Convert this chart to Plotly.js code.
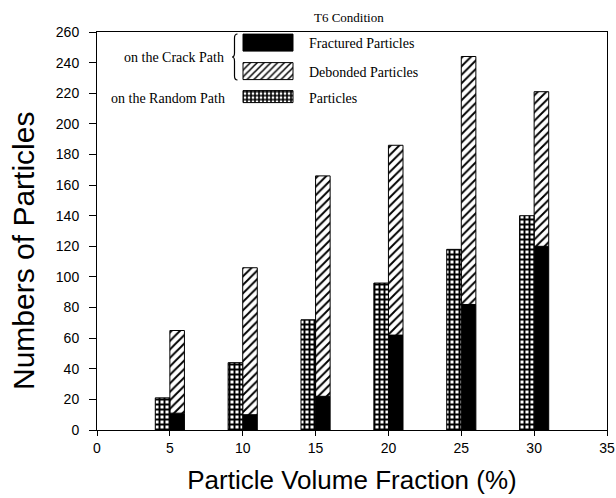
<!DOCTYPE html>
<html>
<head>
<meta charset="utf-8">
<script src="https://cdn.plot.ly/plotly-3.0.1.min.js"></script>
<style>
  html, body { margin: 0; padding: 0; background: #ffffff; }
  #chart { width: 616px; height: 498px; }
</style>
</head>
<body>
<div id="chart"></div>
<script>
// Particle volume fraction (%)
const volumeFraction = [5, 10, 15, 20, 25, 30];
// Particles counted along a random path
const randomPathParticles = [21, 44, 72, 96, 118, 140];
// Particles on the crack path: fractured (bottom) and debonded (stacked on top)
const fracturedParticles = [11, 10, 22, 62, 82, 120];
const debondedParticles = [54, 96, 144, 124, 162, 101];

const xTicks = [0, 5, 10, 15, 20, 25, 30, 35];
const yTicks = [0, 20, 40, 60, 80, 100, 120, 140, 160, 180, 200, 220, 240, 260];

const W = 616, H = 498;
const M = { l: 97, r: 9, t: 32, b: 68 };
const plotW = W - M.l - M.r, plotH = H - M.t - M.b;
// pixel -> paper helpers for the legend decorations
const px = v => (v - M.l) / plotW;
const py = v => (H - M.b - v) / plotH;

const serif = 'Liberation Serif, Times New Roman, serif';
const sans = 'Liberation Sans, Arial, sans-serif';
const outline = { color: '#000000', width: 1 };

const traces = [
  {
    type: 'bar',
    name: 'Fractured Particles',
    x: volumeFraction,
    y: fracturedParticles,
    width: 1,
    offset: 0,
    marker: { color: '#000000', line: outline },
    legend: 'legend'
  },
  {
    type: 'bar',
    name: 'Debonded Particles',
    x: volumeFraction,
    y: debondedParticles,
    base: fracturedParticles,
    width: 1,
    offset: 0,
    marker: {
      color: '#ffffff',
      line: outline,
      pattern: { shape: '/', fgcolor: '#000000', bgcolor: '#ffffff', size: 6, solidity: 0.32, fillmode: 'replace' }
    },
    legend: 'legend2'
  },
  {
    type: 'bar',
    name: 'Particles',
    x: volumeFraction,
    y: randomPathParticles,
    width: 1,
    offset: -1,
    marker: {
      color: '#ffffff',
      line: outline,
      pattern: { shape: '+', fgcolor: '#000000', bgcolor: '#ffffff', size: 5, solidity: 0.62, fillmode: 'replace' }
    },
    legend: 'legend3'
  }
];

const legendBase = {
  x: px(269), xanchor: 'left', yanchor: 'middle',
  bgcolor: 'rgba(0,0,0,0)', borderwidth: 0,
  font: { family: serif, size: 14, color: '#000000' }
};

// curly brace grouping the two crack-path entries
const braceTop = 34, braceMid = 57, braceBot = 80, braceTip = 232, braceStem = 234.5, braceEnd = 237.5;
const bracePath = [
  `M${px(braceEnd)},${py(braceTop)}`,
  `Q${px(braceStem)},${py(braceTop)} ${px(braceStem)},${py(braceTop + 4)}`,
  `L${px(braceStem)},${py(braceMid - 4)}`,
  `Q${px(braceStem)},${py(braceMid)} ${px(braceTip)},${py(braceMid)}`,
  `Q${px(braceStem)},${py(braceMid)} ${px(braceStem)},${py(braceMid + 4)}`,
  `L${px(braceStem)},${py(braceBot - 4)}`,
  `Q${px(braceStem)},${py(braceBot)} ${px(braceEnd)},${py(braceBot)}`
].join(' ');

const layout = {
  width: W,
  height: H,
  margin: M,
  paper_bgcolor: '#ffffff',
  plot_bgcolor: '#ffffff',
  barmode: 'overlay',
  showlegend: true,
  legend: Object.assign({}, legendBase, { y: py(43) }),
  legend2: Object.assign({}, legendBase, { y: py(72) }),
  legend3: Object.assign({}, legendBase, { y: py(98) }),
  xaxis: {
    range: [0, 35],
    tickvals: xTicks,
    ticktext: xTicks.map(String),
    ticks: 'outside', ticklen: 5, tickwidth: 1, tickcolor: '#000000',
    showline: true, linecolor: '#000000', linewidth: 1, mirror: true,
    showgrid: false, zeroline: false,
    tickfont: { family: sans, size: 14, color: '#000000' },
    title: { text: 'Particle Volume Fraction (%)', font: { family: sans, size: 26, color: '#000000' }, standoff: 16 }
  },
  yaxis: {
    range: [0, 260],
    tickvals: yTicks,
    ticktext: yTicks.map(String),
    ticks: 'outside', ticklen: 7, tickwidth: 1, tickcolor: '#000000',
    ticklabelstandoff: 7,
    showline: true, linecolor: '#000000', linewidth: 1, mirror: true,
    showgrid: false, zeroline: false,
    tickfont: { family: sans, size: 14, color: '#000000' }
  },
  shapes: [
    { type: 'path', xref: 'paper', yref: 'paper', path: bracePath, line: { color: '#000000', width: 1.2 } }
  ],
  annotations: [
    {
      // y-axis title
      text: 'Numbers of Particles', xref: 'paper', yref: 'paper',
      x: px(23), y: py(251), xanchor: 'center', yanchor: 'middle', textangle: -90, showarrow: false,
      font: { family: sans, size: 30, color: '#000000' }
    },
    {
      text: 'T6 Condition', xref: 'paper', yref: 'paper',
      x: px(312), y: py(17), xanchor: 'left', yanchor: 'middle', showarrow: false,
      font: { family: serif, size: 13, color: '#000000' }
    },
    {
      text: 'on the Crack Path', xref: 'paper', yref: 'paper',
      x: px(226), y: py(58), xanchor: 'right', yanchor: 'middle', showarrow: false,
      font: { family: serif, size: 14, color: '#000000' }
    },
    {
      text: 'on the Random Path', xref: 'paper', yref: 'paper',
      x: px(227), y: py(98), xanchor: 'right', yanchor: 'middle', showarrow: false,
      font: { family: serif, size: 14, color: '#000000' }
    }
  ]
};

// wide rectangular legend keys: [left, right, top, bottom] around the symbol centre
const keyBoxes = {
  legend: [-46, 4, -8.5, 8.5],
  legend2: [-46, 4, -9, 8],
  legend3: [-46, 4, -7, 5]
};

Plotly.newPlot('chart', traces, layout, { displayModeBar: false, staticPlot: true }).then(gd => {
  Object.keys(keyBoxes).forEach(id => {
    const [l, r, t, b] = keyBoxes[id];
    const group = gd.querySelector(`g.${id}`);
    if (!group) return;
    // let the wider keys extend past the legend box edge
    group.removeAttribute('clip-path');
    group.querySelectorAll('[clip-path]').forEach(el => el.removeAttribute('clip-path'));
    group.querySelectorAll('.legendpoints path').forEach(p => {
      p.setAttribute('d', `M${r},${b}H${l}V${t}H${r}Z`);
    });
  });
});
</script>
</body>
</html>
